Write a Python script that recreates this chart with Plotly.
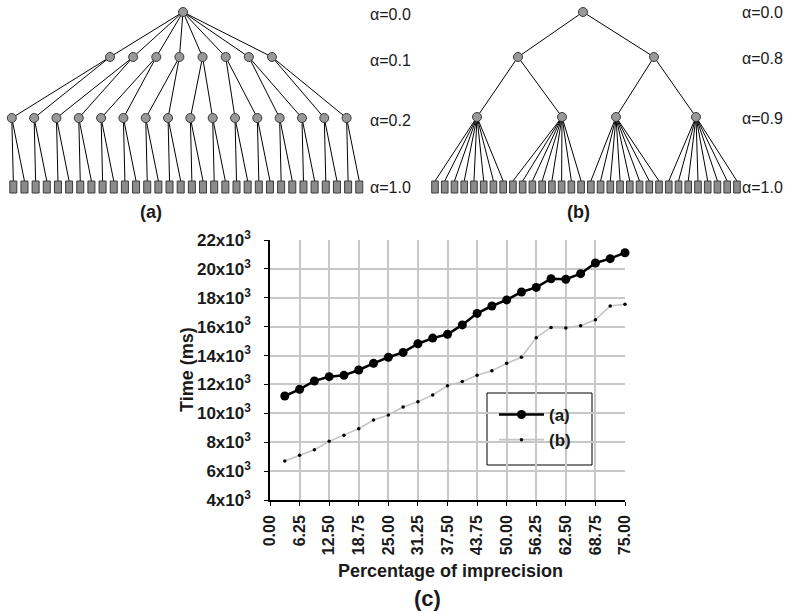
import plotly.graph_objects as go

# ---------------- DATA ----------------
pct = [3.125 * (i + 1) for i in range(24)]
time_a = [11200, 11660, 12240, 12540, 12630, 13000, 13460, 13880, 14220, 14820,
          15210, 15470, 16120, 16920, 17430, 17850, 18400, 18720, 19320, 19280,
          19670, 20410, 20710, 21120]
time_b = [6700, 7090, 7480, 8060, 8480, 8940, 9540, 9880, 10440, 10810,
          11270, 11910, 12210, 12630, 12950, 13460, 13880, 15240, 15950, 15910,
          16070, 16480, 17430, 17550]
x_ticks = [6.25 * i for i in range(13)]
y_ticks = [4000 + 2000 * i for i in range(10)]
y_ticktext = [f"{v // 1000}x10<sup>3</sup>" for v in y_ticks]
alpha_a = ["α=0.0", "α=0.1", "α=0.2", "α=1.0"]
alpha_b = ["α=0.0", "α=0.8", "α=0.9", "α=1.0"]

# ---------------- TREE LAYOUT (pixel positions) ----------------
W, H = 787, 614
FONT = "Liberation Sans, Arial, sans-serif"
TXT = "#1a1a1a"

# tree (a)
a_root = (183, 12)
a_l1 = [(110 + 23.14 * i, 57) for i in range(8)]
a_leaf_x = [13.3 + 11.16 * i for i in range(32)]
a_l2 = [(a_leaf_x[2 * k] - 1.5, 118) for k in range(16)]
a_alpha_y = [14, 60, 120, 187]
# tree (b)
b_root = (583, 12)
b_l1 = [(518, 57), (654, 57)]
b_l2 = [(477, 117), (562, 117), (616, 117), (696, 117)]
b_leaf_x = [435 + 9.74 * i for i in range(32)]
b_alpha_y = [12, 58, 118, 187]
LEAF_TOP, LEAF_BOT = 181, 193

ex, ey = [], []
def edge(p, q):
    ex.extend([p[0], q[0], None]); ey.extend([p[1], q[1], None])

for n in a_l1:
    edge(a_root, n)
for i, n in enumerate(a_l1):
    edge(n, a_l2[2 * i]); edge(n, a_l2[2 * i + 1])
for k, n in enumerate(a_l2):
    for j in (2 * k, 2 * k + 1):
        edge(n, (a_leaf_x[j], LEAF_TOP))
for n in b_l1:
    edge(b_root, n)
for i, n in enumerate(b_l1):
    edge(n, b_l2[2 * i]); edge(n, b_l2[2 * i + 1])
for k, n in enumerate(b_l2):
    for j in range(8 * k, 8 * k + 8):
        edge(n, (b_leaf_x[j], LEAF_TOP))

nodes = [a_root] + a_l1 + a_l2 + [b_root] + b_l1 + b_l2

fig = go.Figure()

# ---- chart (c) ----
fig.add_trace(go.Scatter(x=pct, y=time_b, name="(b)", mode="lines+markers",
                         line=dict(color="#c4c4c4", width=1.6),
                         marker=dict(color="black", size=3.5),
                         cliponaxis=False))
fig.add_trace(go.Scatter(x=pct, y=time_a, name="(a)", mode="lines+markers",
                         line=dict(color="black", width=2.5),
                         marker=dict(color="black", size=9),
                         cliponaxis=False))

# ---- trees on pixel overlay axes ----
fig.add_trace(go.Scatter(x=ex, y=ey, mode="lines", xaxis="x2", yaxis="y2",
                         line=dict(color="black", width=1), showlegend=False,
                         hoverinfo="skip", cliponaxis=False))
fig.add_trace(go.Scatter(x=[p[0] for p in nodes], y=[p[1] for p in nodes],
                         mode="markers", xaxis="x2", yaxis="y2",
                         marker=dict(size=9, color="#999999",
                                     line=dict(color="#3a3a3a", width=1)),
                         showlegend=False, hoverinfo="skip", cliponaxis=False))

shapes = []
for lx, w in [(x, 7) for x in a_leaf_x] + [(x, 6.6) for x in b_leaf_x]:
    shapes.append(dict(type="rect", xref="x2", yref="y2",
                       x0=lx - w / 2, x1=lx + w / 2, y0=LEAF_TOP, y1=LEAF_BOT,
                       fillcolor="#8c8c8c", line=dict(color="#3a3a3a", width=1)))
# legend box
shapes.append(dict(type="rect", xref="paper", yref="paper", layer="between",
                   x0=487 / W, x1=592 / W, y0=1 - 465 / H, y1=1 - 393 / H,
                   fillcolor="white", line=dict(color="black", width=1)))

annotations = []
def txt(x, y, s, size, bold=False, anchor="center", angle=0):
    annotations.append(dict(xref="x2", yref="y2", x=x, y=y,
                            text=f"<b>{s}</b>" if bold else s, showarrow=False,
                            xanchor=anchor, yanchor="middle", textangle=angle,
                            font=dict(family=FONT, size=size, color=TXT)))

for s, y in zip(alpha_a, a_alpha_y):
    txt(368, y, s, 16, anchor="left")
for s, y in zip(alpha_b, b_alpha_y):
    txt(740, y, s, 16, anchor="left")
txt(151, 212, "(a)", 18, bold=True)
txt(578, 212, "(b)", 18, bold=True)
txt(187, 370, "Time (ms)", 18, bold=True, angle=-90)
txt(450, 571, "Percentage of imprecision", 18, bold=True)
txt(427, 598, "(c)", 22, bold=True)

fig.update_layout(
    width=W, height=H, autosize=False,
    margin=dict(l=0, r=0, t=0, b=0, pad=0, autoexpand=False),
    paper_bgcolor="white", plot_bgcolor="rgba(0,0,0,0)",
    font=dict(family=FONT, color=TXT),
    shapes=shapes, annotations=annotations,
    xaxis=dict(domain=[270 / W, 625 / W], range=[0, 75], automargin=False,
               tickvals=x_ticks, ticktext=[f"{v:.2f}" for v in x_ticks],
               tickangle=-90, ticks="outside", ticklen=4, tickcolor="black",
               ticklabelstandoff=3,
               showgrid=True, gridcolor="#c8c8c8", gridwidth=1.5,
               showline=True, linecolor="black", linewidth=1.5, zeroline=False,
               tickfont=dict(family=FONT, size=16, weight="bold", color=TXT)),
    yaxis=dict(domain=[1 - 500 / H, 1 - 240 / H], range=[4000, 22000], automargin=False,
               tickvals=y_ticks, ticktext=y_ticktext,
               ticks="outside", ticklen=4, tickcolor="black",
               ticklabelstandoff=10,
               showgrid=True, gridcolor="#c8c8c8", gridwidth=1.5,
               showline=True, linecolor="black", linewidth=1.5, zeroline=False,
               tickfont=dict(family=FONT, size=17, weight="bold", color=TXT)),
    xaxis2=dict(domain=[0, 1], range=[0, W], visible=False, fixedrange=True,
                automargin=False, anchor="y2"),
    yaxis2=dict(domain=[0, 1], range=[H, 0], visible=False, fixedrange=True,
                automargin=False, anchor="x2"),
    legend=dict(x=494 / W, y=1 - 397 / H, xanchor="left", yanchor="top",
                bgcolor="rgba(0,0,0,0)", borderwidth=0, traceorder="reversed",
                itemwidth=45, tracegroupgap=0,
                font=dict(family=FONT, size=17, weight="bold", color=TXT)),
    showlegend=True,
)

fig.write_html("out.html")
